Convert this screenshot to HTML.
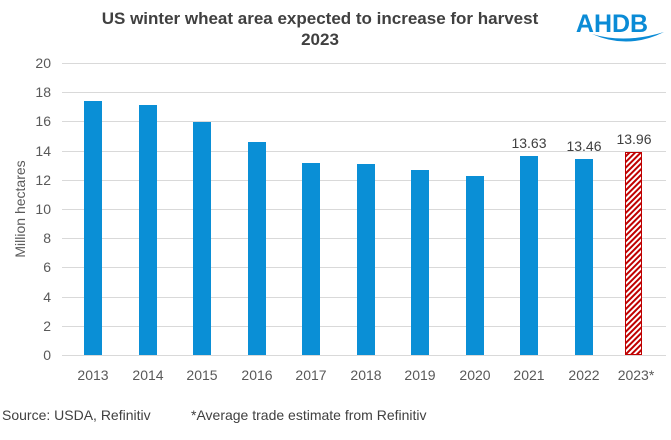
<!DOCTYPE html>
<html><head><meta charset="utf-8"><style>body{margin:0;background:#fff}</style></head><body>
<svg width="671" height="435" xmlns="http://www.w3.org/2000/svg" font-family="Liberation Sans, Arial, sans-serif">
<defs><pattern id="h" width="4" height="4" patternUnits="userSpaceOnUse" patternTransform="rotate(45)"><rect width="4" height="4" fill="#fff"/><rect width="2" height="4" fill="#c00000"/></pattern></defs>
<text x="320" y="24" text-anchor="middle" font-size="17" font-weight="bold" fill="#404040">US winter wheat area expected to increase for harvest</text>
<text x="320" y="45" text-anchor="middle" font-size="17" font-weight="bold" fill="#404040">2023</text>
<text x="612" y="32" text-anchor="middle" font-size="25" fill="#0a8bd6" font-weight="bold">AHDB</text>
<path d="M592 34 Q625 44 664 32 Q628 50 592 34Z" fill="#0a8bd6"/>
<g stroke="#d9d9d9" stroke-width="1">
<line x1="62" x2="666" y1="63.5" y2="63.5"/><line x1="62" x2="666" y1="92.5" y2="92.5"/><line x1="62" x2="666" y1="121.5" y2="121.5"/><line x1="62" x2="666" y1="151.5" y2="151.5"/><line x1="62" x2="666" y1="180.5" y2="180.5"/><line x1="62" x2="666" y1="209.5" y2="209.5"/><line x1="62" x2="666" y1="238.5" y2="238.5"/><line x1="62" x2="666" y1="267.5" y2="267.5"/><line x1="62" x2="666" y1="297.5" y2="297.5"/><line x1="62" x2="666" y1="326.5" y2="326.5"/><line x1="62" x2="666" y1="355.5" y2="355.5"/>
</g>
<g font-size="14" fill="#595959" text-anchor="end">
<text x="51" y="68">20</text><text x="51" y="97">18</text><text x="51" y="126">16</text><text x="51" y="156">14</text><text x="51" y="185">12</text><text x="51" y="214">10</text><text x="51" y="243">8</text><text x="51" y="272">6</text><text x="51" y="302">4</text><text x="51" y="331">2</text><text x="51" y="360">0</text>
</g>
<text transform="translate(25,209) rotate(-90)" text-anchor="middle" font-size="14" fill="#595959">Million hectares</text>
<g fill="#0a8fd6">
<rect x="84" y="101" width="18" height="254"/>
<rect x="139" y="105" width="18" height="250"/>
<rect x="193" y="122" width="18" height="233"/>
<rect x="248" y="142" width="18" height="213"/>
<rect x="302" y="163" width="18" height="192"/>
<rect x="357" y="164" width="18" height="191"/>
<rect x="411" y="170" width="18" height="185"/>
<rect x="466" y="176" width="18" height="179"/>
<rect x="520" y="156" width="18" height="199"/>
<rect x="575" y="159" width="18" height="196"/>
</g>
<rect x="625.5" y="152.5" width="16" height="202" fill="url(#h)" stroke="#c00000"/>
<g font-size="14" fill="#404040" text-anchor="middle">
<text x="529" y="148">13.63</text><text x="584" y="151">13.46</text><text x="634" y="144">13.96</text>
</g>
<g font-size="14" fill="#595959" text-anchor="middle">
<text x="93" y="380">2013</text><text x="148" y="380">2014</text><text x="202" y="380">2015</text><text x="257" y="380">2016</text><text x="311" y="380">2017</text><text x="366" y="380">2018</text><text x="420" y="380">2019</text><text x="475" y="380">2020</text><text x="529" y="380">2021</text><text x="584" y="380">2022</text><text x="636" y="380">2023*</text>
</g>
<text x="2" y="420" font-size="14" fill="#404040">Source: USDA, Refinitiv</text>
<text x="191" y="420" font-size="14" fill="#404040">*Average trade estimate from Refinitiv</text>
</svg>
</body></html>
